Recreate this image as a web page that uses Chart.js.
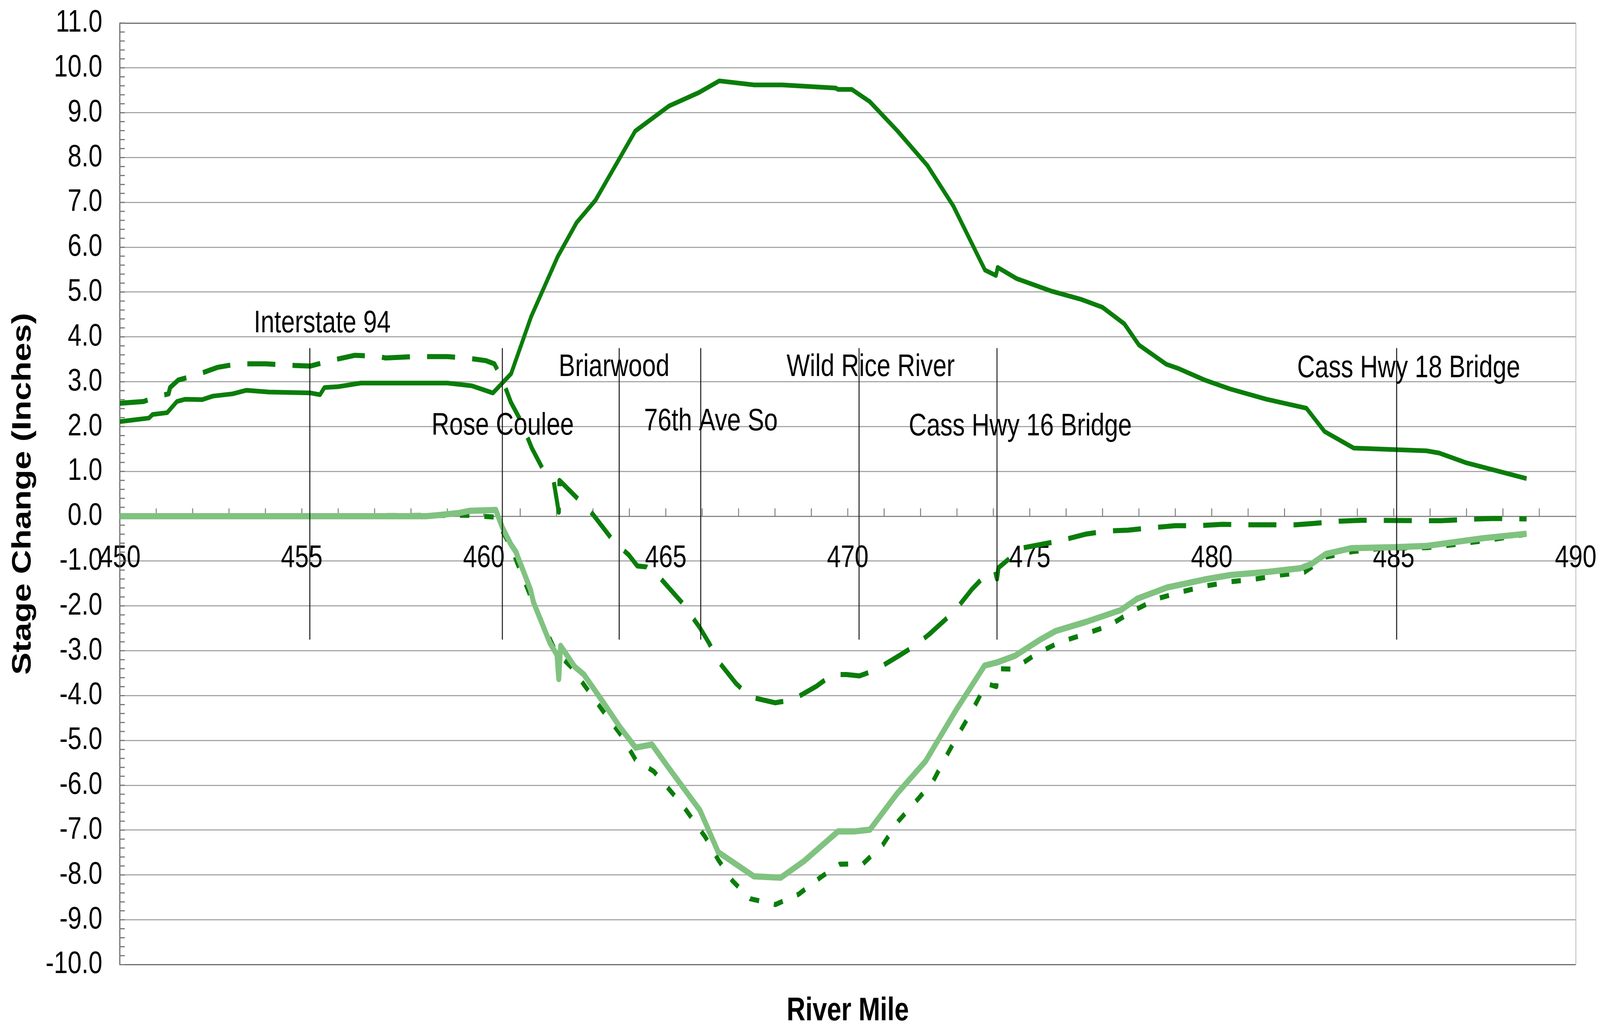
<!DOCTYPE html>
<html>
<head>
<meta charset="utf-8">
<script src="https://cdn.jsdelivr.net/npm/chart.js@4.4.1/dist/chart.umd.min.js"></script>
<style>
  html, body { margin: 0; padding: 0; background: #fff; overflow: hidden; }
  canvas { display: block; }
</style>
</head>
<body>
<canvas id="stageChart" width="5135" height="2625" style="width:100vw;height:100vh"></canvas>
<script>
// solid dark green
const solidMiles = [450.0, 450.8, 450.9, 451.3, 451.57, 451.8, 452.26, 452.56, 453.1, 453.48, 454.09, 455.24, 455.5, 455.62, 456.0, 456.62, 457.6, 459.0, 459.67, 460.25, 460.52, 460.75, 461.3, 462.03, 462.55, 463.07, 464.16, 465.09, 465.91, 466.47, 467.43, 468.2, 469.67, 469.73, 470.11, 470.6, 471.37, 472.19, 472.9, 473.77, 474.07, 474.12, 474.64, 475.6, 476.4, 477.0, 477.6, 478.0, 478.75, 479.1, 479.8, 480.5, 481.5, 482.6, 483.1, 483.9, 485.9, 486.25, 487.0, 488.65];
const solidStage = [2.11, 2.19, 2.27, 2.31, 2.56, 2.61, 2.60, 2.68, 2.73, 2.81, 2.77, 2.75, 2.71, 2.87, 2.89, 2.97, 2.97, 2.97, 2.91, 2.75, 2.98, 3.18, 4.45, 5.79, 6.55, 7.05, 8.59, 9.15, 9.45, 9.71, 9.62, 9.62, 9.55, 9.52, 9.52, 9.25, 8.59, 7.82, 6.92, 5.49, 5.37, 5.55, 5.30, 5.02, 4.84, 4.66, 4.29, 3.82, 3.39, 3.29, 3.04, 2.84, 2.61, 2.41, 1.89, 1.52, 1.46, 1.41, 1.19, 0.84];

// dashed dark green
const dashMiles = [450.0, 450.65, 451.08, 451.34, 451.38, 451.61, 452.07, 452.68, 453.25, 454.02, 454.55, 455.24, 455.78, 456.46, 457.07, 457.3, 458.07, 459.0, 459.52, 460.06, 460.29, 460.52, 460.74, 461.01, 461.32, 461.72, 461.92, 462.06, 462.08, 462.62, 463.0, 463.56, 463.98, 464.22, 464.47, 464.86, 465.45, 465.94, 466.19, 466.44, 466.93, 467.32, 468.01, 468.5, 469.14, 469.58, 469.97, 470.32, 470.76, 471.45, 471.84, 472.24, 472.92, 473.41, 473.81, 474.05, 474.1, 474.14, 474.78, 475.76, 476.53, 477.1, 477.7, 478.3, 479.0, 479.6, 480.3, 481.0, 482.3, 482.8, 483.5, 484.1, 486.3, 487.3, 487.8, 488.65];
const dashStage = [2.52, 2.56, 2.68, 2.73, 2.87, 3.04, 3.14, 3.32, 3.40, 3.40, 3.37, 3.35, 3.47, 3.59, 3.57, 3.53, 3.56, 3.56, 3.53, 3.47, 3.40, 3.03, 2.55, 2.14, 1.52, 0.90, 0.78, 0.09, 0.80, 0.36, 0.04, -0.55, -0.86, -1.11, -1.13, -1.39, -1.93, -2.49, -2.83, -3.23, -3.73, -4.03, -4.16, -4.09, -3.79, -3.53, -3.53, -3.56, -3.43, -3.09, -2.89, -2.63, -2.13, -1.63, -1.29, -1.23, -1.40, -1.15, -0.71, -0.56, -0.40, -0.33, -0.31, -0.26, -0.21, -0.21, -0.18, -0.19, -0.19, -0.16, -0.11, -0.09, -0.10, -0.06, -0.05, -0.06];

// light green solid
const lightMiles = [450.0, 458.4, 458.8, 459.3, 459.6, 460.33, 460.51, 460.74, 460.88, 461.28, 461.37, 461.82, 462.01, 462.06, 462.11, 462.5, 462.75, 463.29, 463.73, 464.17, 464.62, 465.06, 465.94, 466.44, 467.42, 468.16, 468.8, 469.73, 470.17, 470.61, 471.35, 472.14, 472.97, 473.76, 474.1, 474.6, 475.27, 475.71, 476.53, 477.51, 477.95, 478.77, 479.8, 480.52, 481.55, 482.43, 482.75, 483.14, 483.85, 485.05, 485.92, 487.45, 488.65];
const lightStage = [0.0, 0.0, 0.03, 0.07, 0.12, 0.14, -0.25, -0.62, -0.79, -1.63, -1.93, -2.83, -3.09, -3.63, -2.89, -3.36, -3.53, -4.16, -4.69, -5.16, -5.09, -5.59, -6.56, -7.49, -8.03, -8.06, -7.69, -7.03, -7.03, -6.99, -6.19, -5.46, -4.33, -3.33, -3.26, -3.11, -2.76, -2.56, -2.36, -2.09, -1.84, -1.59, -1.41, -1.31, -1.24, -1.16, -1.06, -0.84, -0.71, -0.69, -0.66, -0.49, -0.39];

// dotted dark green
const dotMiles = [450.0, 459.3, 459.6, 460.33, 460.44, 460.74, 461.32, 461.96, 462.06, 462.4, 463.29, 463.78, 464.17, 464.67, 465.45, 466.09, 466.44, 466.83, 467.32, 468.01, 468.65, 469.24, 469.78, 470.42, 470.96, 471.4, 471.84, 472.33, 472.68, 473.02, 473.42, 473.81, 474.08, 474.12, 474.56, 475.2, 475.82, 476.47, 477.18, 477.84, 478.5, 479.15, 479.8, 480.52, 481.2, 481.88, 482.54, 483.14, 483.85, 484.72, 485.92, 486.58, 487.34, 487.94, 488.65];
const dotStage = [0.0, 0.02, 0.02, -0.02, -0.22, -0.68, -1.86, -2.99, -3.09, -3.36, -4.36, -4.89, -5.43, -5.69, -6.43, -7.16, -7.66, -8.13, -8.53, -8.66, -8.43, -8.06, -7.76, -7.75, -7.33, -6.79, -6.39, -5.93, -5.39, -4.89, -4.33, -3.73, -3.80, -3.40, -3.41, -3.06, -2.81, -2.64, -2.44, -2.11, -1.84, -1.69, -1.56, -1.46, -1.40, -1.31, -1.25, -0.91, -0.79, -0.71, -0.70, -0.64, -0.56, -0.49, -0.40];

// landmarks along the river
const landmarkNames = ["Interstate 94", "Rose Coulee", "Briarwood", "76th Ave So", "Wild Rice River", "Cass Hwy 16 Bridge", "Cass Hwy 18 Bridge"];
const landmarkMiles = [455.22, 460.51, 463.72, 465.96, 470.31, 474.1, 485.08];
const labelMiles = [455.56, 460.52, 463.58, 466.24, 470.63, 474.74, 485.41];
const labelStages = [4.29, 2.01, 3.32, 2.11, 3.32, 1.99, 3.29];
const markerLow = -2.75;
const markerHigh = 3.75;

const FONT = '"Liberation Sans", Arial, Helvetica, sans-serif';
Chart.defaults.font.family = FONT;
Chart.defaults.color = "#000";

const DARK = "#0a7d0a";
const LIGHT = "#80c280";

function toPoints(miles, stage) {
    return miles.map((m, i) => ({ x: m, y: stage[i] }));
}

const datasets = [
    {
        label: "light",
        data: toPoints(lightMiles, lightStage),
        borderColor: LIGHT,
        borderWidth: 16,
        order: 2,
    },
    {
        label: "dotted",
        data: toPoints(dotMiles, dotStage),
        borderColor: DARK,
        borderWidth: 13,
        borderDash: [30, 48],
        order: 3,
    },
    {
        label: "dashed",
        data: toPoints(dashMiles, dashStage),
        borderColor: DARK,
        borderWidth: 13,
        borderDash: [90, 55],
        order: 4,
    },
    {
        label: "solid",
        data: toPoints(solidMiles, solidStage),
        borderColor: DARK,
        borderWidth: 12,
        order: 5,
    },
];

landmarkMiles.forEach((m, i) => {
    datasets.push({
        label: landmarkNames[i],
        data: [{ x: m, y: markerLow }, { x: m, y: markerHigh }],
        borderColor: "#111",
        borderWidth: 3,
        order: 1,
    });
});

// inside minor ticks and landmark captions
const decorations = {
    id: "decorations",
    beforeDatasetsDraw(chart) {
        const { ctx, chartArea, scales } = chart;
        const x = scales.x, y = scales.y;
        ctx.save();
        ctx.strokeStyle = "#7a7a7a";
        ctx.lineWidth = 3;
        ctx.beginPath();
        for (let v = -100; v <= 110; v += 2) {
            const py = y.getPixelForValue(v / 10);
            ctx.moveTo(chartArea.left, py);
            ctx.lineTo(chartArea.left + 16, py);
        }
        const y0 = y.getPixelForValue(0);
        for (let m = 451; m < 490; m++) {
            const px = x.getPixelForValue(m);
            ctx.moveTo(px, y0);
            ctx.lineTo(px, y0 - 20);
        }
        ctx.stroke();
        ctx.restore();
    },
    afterDatasetsDraw(chart) {
        const { ctx, scales } = chart;
        ctx.save();
        ctx.font = "79px " + FONT;
        ctx.fillStyle = "#000";
        ctx.textAlign = "center";
        ctx.textBaseline = "middle";
        landmarkNames.forEach((name, i) => {
            ctx.fillText(name, scales.x.getPixelForValue(labelMiles[i]), scales.y.getPixelForValue(labelStages[i]));
        });
        ctx.restore();
    },
};

const ctx = document.getElementById("stageChart").getContext("2d");
const stageChart = new Chart(ctx, {
    type: "line",
    data: { datasets: datasets },
    plugins: [decorations],
    options: {
        responsive: false,
        devicePixelRatio: 1,
        animation: false,
        parsing: false,
        elements: {
            point: { radius: 0 },
            line: { tension: 0, borderJoinStyle: "round", fill: false },
        },
        layout: { padding: { left: 19, top: 59, right: 78, bottom: 0 } },
        plugins: {
            legend: { display: false },
            tooltip: { enabled: false },
            title: {
                display: true,
                position: "bottom",
                fullSize: false,
                text: "River Mile",
                color: "#000",
                font: { size: 83, weight: "bold" },
                padding: { top: 70, bottom: -15 },
            },
        },
        scales: {
            x: {
                type: "linear",
                min: 450,
                max: 490,
                position: { y: 0 },
                afterFit: (scale) => { scale.paddingLeft = 0; scale.paddingRight = 0; },
                ticks: {
                    stepSize: 5,
                    font: { size: 80 },
                    color: "#000",
                    padding: 60,
                    maxRotation: 0,
                },
                grid: {
                    drawTicks: false,
                    lineWidth: 3,
                    color: (c) => (c.tick && c.tick.value === 490 ? "#c4c4c4" : "rgba(0,0,0,0)"),
                },
                border: { display: true, color: "#8a8a8a", width: 3 },
            },
            y: {
                type: "linear",
                min: -10,
                max: 11,
                afterFit: (scale) => {
                    scale.paddingTop = 0;
                    scale.paddingBottom = 0;
                    scale.width -= scale.options.ticks.padding;
                },
                ticks: {
                    stepSize: 1,
                    font: { size: 80 },
                    color: "#000",
                    padding: 56,
                    callback: (v) => v.toFixed(1),
                },
                grid: {
                    drawTicks: false,
                    lineWidth: 3,
                    color: (c) => (c.tick && (c.tick.value === 11 || c.tick.value === -10) ? "#6e6e6e" : "#a8a8a8"),
                },
                border: { color: "#555", width: 3 },
                title: {
                    display: true,
                    text: "Stage Change (Inches)",
                    color: "#000",
                    font: { size: 86, weight: "bold" },
                    padding: { top: 4, bottom: 20 },
                },
            },
        },
    },
});
</script>
</body>
</html>
